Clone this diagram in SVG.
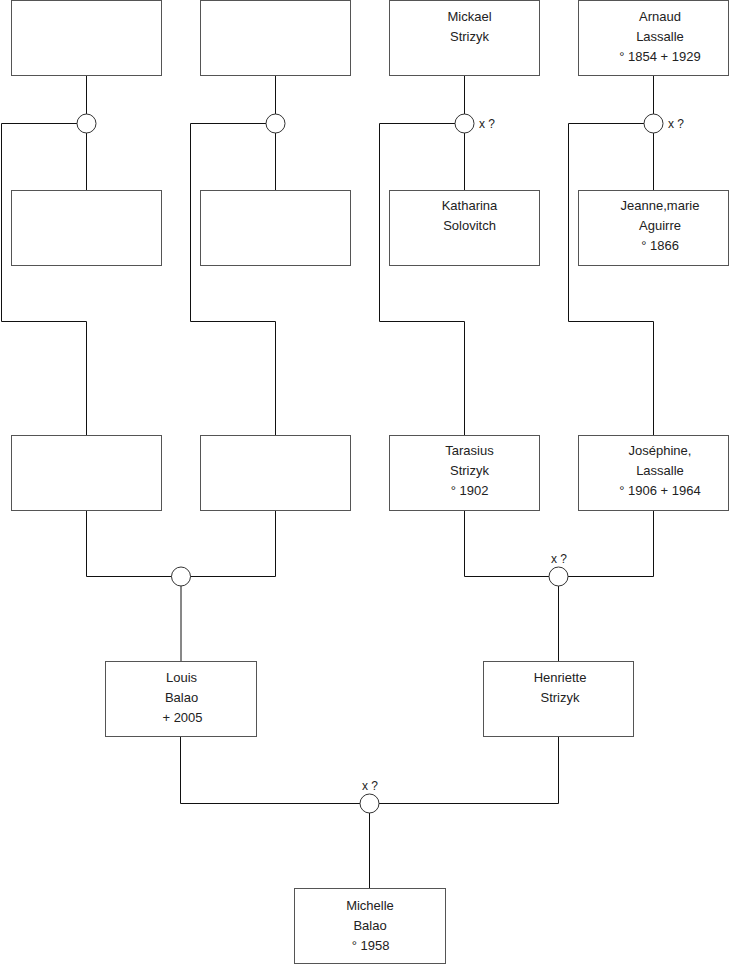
<svg xmlns="http://www.w3.org/2000/svg" width="740" height="975" viewBox="0 0 740 975">
<style>
.box{fill:#fff;stroke:#555;stroke-width:1}
.ln{fill:none;stroke:#111;stroke-width:1}
.u{fill:#fff;stroke:#333;stroke-width:1}
text{font-family:"Liberation Sans",Arial,sans-serif;font-size:13px;fill:#222;text-anchor:middle}
.x{font-size:12px}
.xs{font-size:12px;text-anchor:start}
</style>
<rect width="740" height="975" fill="#fff"/>
<g id="connectors">
<path class="ln" d="M86.5 76V190M86.5 123.5H1.5V321.5H86.5V435"/>
<path class="ln" d="M275.5 76V190M275.5 123.5H190.5V321.5H275.5V435"/>
<path class="ln" d="M464.5 76V190M464.5 123.5H379.5V321.5H464.5V435"/>
<path class="ln" d="M653.5 76V190M653.5 123.5H568.5V321.5H653.5V435"/>
<path class="ln" d="M86.5 510V576.5H275.5V510M181 576.5V661"/>
<path class="ln" d="M464.5 510V576.5H653.5V510M558.5 576.5V661"/>
<path class="ln" d="M180.5 737V803.5H558.5V737M369.5 803.5V888"/>
</g>
<g id="u1"><circle class="u" cx="86.5" cy="123.5" r="9.5"/></g>
<g id="u2"><circle class="u" cx="275.5" cy="123.5" r="9.5"/></g>
<g id="u3"><circle class="u" cx="464.5" cy="123.5" r="9.5"/><text class="xs" x="479" y="128">x ?</text></g>
<g id="u4"><circle class="u" cx="653.5" cy="123.5" r="9.5"/><text class="xs" x="668" y="128">x ?</text></g>
<g id="u5"><circle class="u" cx="181" cy="576.5" r="9.5"/></g>
<g id="u6"><circle class="u" cx="558.5" cy="576.5" r="9.5"/><text class="x" x="559" y="563">x ?</text></g>
<g id="u7"><circle class="u" cx="369.5" cy="803.5" r="9.5"/><text class="x" x="370" y="790">x ?</text></g>
<g id="n1"><rect class="box" x="11.5" y="0.5" width="150" height="75"/></g>
<g id="n2"><rect class="box" x="200.5" y="0.5" width="150" height="75"/></g>
<g id="n3"><rect class="box" x="389.5" y="0.5" width="150" height="75"/><text x="469.5" y="21">Mickael</text><text x="469.5" y="41">Strizyk</text></g>
<g id="n4"><rect class="box" x="578.5" y="0.5" width="150" height="75"/><text x="660" y="21">Arnaud</text><text x="660" y="41">Lassalle</text><text x="660" y="61">° 1854 + 1929</text></g>
<g id="n5"><rect class="box" x="11.5" y="190.5" width="150" height="75"/></g>
<g id="n6"><rect class="box" x="200.5" y="190.5" width="150" height="75"/></g>
<g id="n7"><rect class="box" x="389.5" y="190.5" width="150" height="75"/><text x="469.5" y="210">Katharina</text><text x="469.5" y="230">Solovitch</text></g>
<g id="n8"><rect class="box" x="578.5" y="190.5" width="150" height="75"/><text x="660" y="210">Jeanne,marie</text><text x="660" y="230">Aguirre</text><text x="660" y="250">° 1866</text></g>
<g id="n9"><rect class="box" x="11.5" y="435.5" width="150" height="75"/></g>
<g id="n10"><rect class="box" x="200.5" y="435.5" width="150" height="75"/></g>
<g id="n11"><rect class="box" x="389.5" y="435.5" width="150" height="75"/><text x="469.5" y="455">Tarasius</text><text x="469.5" y="475">Strizyk</text><text x="469.5" y="495">° 1902</text></g>
<g id="n12"><rect class="box" x="578.5" y="435.5" width="150" height="75"/><text x="660" y="455">Joséphine,</text><text x="660" y="475">Lassalle</text><text x="660" y="495">° 1906 + 1964</text></g>
<g id="n13"><rect class="box" x="105.5" y="661.5" width="151" height="75"/><text x="181.5" y="681.5">Louis</text><text x="181.5" y="701.5">Balao</text><text x="182.5" y="721.5">+ 2005</text></g>
<g id="n14"><rect class="box" x="483.5" y="661.5" width="150" height="75"/><text x="560" y="681.5">Henriette</text><text x="560" y="701.5">Strizyk</text></g>
<g id="n15"><rect class="box" x="294.5" y="888.5" width="151" height="75"/><text x="370" y="910">Michelle</text><text x="370" y="930">Balao</text><text x="370.5" y="950">° 1958</text></g>
</svg>
